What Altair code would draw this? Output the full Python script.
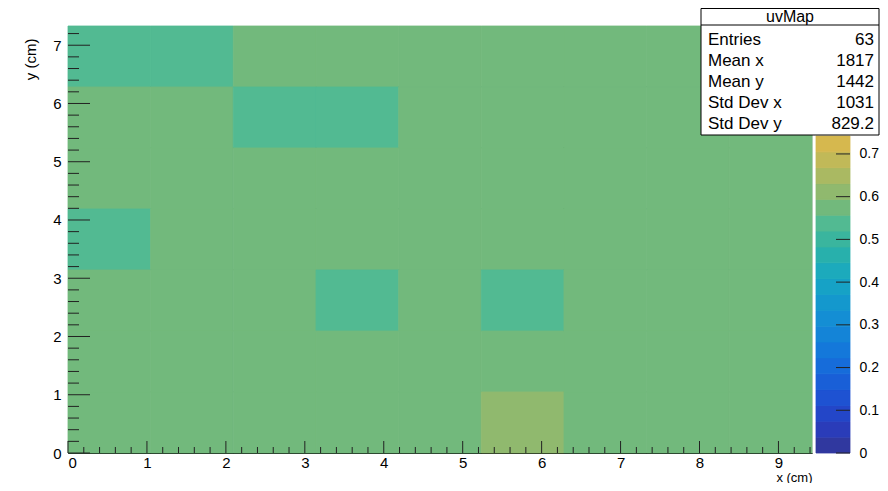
import altair as alt
import pandas as pd

# ---- data ----
x_edges = [0.0, 1.047, 2.094, 3.142, 4.189, 5.236, 6.283, 7.330, 8.378, 9.425]
y_edges = [0.0, 1.047, 2.094, 3.142, 4.189, 5.236, 6.283, 7.330]
# rows listed from top (y bin 6) to bottom (y bin 0)
cell_values = [
    [0.54, 0.54, 0.58, 0.58, 0.58, 0.58, 0.58, 0.58, 0.58],
    [0.58, 0.58, 0.54, 0.54, 0.58, 0.58, 0.58, 0.58, 0.58],
    [0.58, 0.58, 0.58, 0.58, 0.58, 0.58, 0.58, 0.58, 0.58],
    [0.54, 0.58, 0.58, 0.58, 0.58, 0.58, 0.58, 0.58, 0.58],
    [0.58, 0.58, 0.58, 0.54, 0.58, 0.54, 0.58, 0.58, 0.58],
    [0.58, 0.58, 0.58, 0.58, 0.58, 0.58, 0.58, 0.58, 0.58],
    [0.58, 0.58, 0.58, 0.58, 0.58, 0.61, 0.58, 0.58, 0.58],
]
z_levels = [0, 0.0371, 0.0742, 0.1113, 0.1484, 0.1855, 0.2226, 0.2597, 0.2968, 0.3339,
            0.371, 0.4081, 0.4452, 0.4823, 0.5194, 0.5565, 0.5936, 0.6307, 0.6678,
            0.7049, 0.742]
palette = ["#30389f", "#2a3cb9", "#2346c8", "#1e52d2", "#195fd7", "#166cda", "#1478da",
           "#1484d7", "#148ed4", "#1498cd", "#16a2c6", "#1caabc", "#28b0ac", "#3ab59e",
           "#52ba92", "#72b97c", "#90b96e", "#aab962", "#c1b958", "#d6b84e"]
x_major = [0, 1, 2, 3, 4, 5, 6, 7, 8, 9]
x_minor = [round(0.2 * k, 1) for k in range(48) if k % 5 != 0]
y_major = [0, 1, 2, 3, 4, 5, 6, 7]
y_minor = [round(0.2 * k, 1) for k in range(37) if k % 5 != 0]
z_ticks = [0, 0.1, 0.2, 0.3, 0.4, 0.5, 0.6, 0.7]
stat_names = ["Entries", "Mean x", "Mean y", "Std Dev x", "Std Dev y"]
stat_values = ["63", "1817", "1442", "1031", "829.2"]
hist_name = "uvMap"

# ---- tables ----
cells = []
nrows = len(cell_values)
for r, row in enumerate(cell_values):
    j = nrows - 1 - r
    for i, v in enumerate(row):
        cells.append({"x0": x_edges[i], "x1": x_edges[i + 1],
                      "y0": y_edges[j], "y1": y_edges[j + 1], "v": v})
cells = pd.DataFrame(cells)
bands = pd.DataFrame({"lo": z_levels[:-1], "hi": z_levels[1:]})
bands["mid"] = (bands["lo"] + bands["hi"]) / 2
stats = pd.DataFrame({"name": stat_names, "val": stat_values,
                      "row": list(range(len(stat_names)))})

W, H = 744, 427
FONT = "Liberation Sans"
xs = alt.Scale(domain=[x_edges[0], x_edges[-1]], nice=False, zero=False)
ys = alt.Scale(domain=[y_edges[0], y_edges[-1]], nice=False, zero=False)
zs = alt.Scale(domain=[z_levels[0], z_levels[-1]], nice=False, zero=False, range=[H, 110])
cs = alt.Scale(type="threshold", domain=z_levels[1:-1], range=palette)

x_axis = alt.Axis(values=x_major, ticks=False, tickSize=0, domain=True, domainColor="#000",
                  labelPadding=2, labelFontSize=15, labelFont=FONT, labelColor="#000",
                  grid=False, title="x (cm)", titleFont=FONT, titleFontSize=13,
                  titleFontWeight="normal", titleAnchor="end", titleAlign="right",
                  titleX=W, titleY=24, titleBaseline="middle")

heat = alt.Chart(cells).mark_rect(strokeWidth=0.8).encode(
    x=alt.X("x0:Q", scale=xs, axis=x_axis),
    x2="x1",
    y=alt.Y("y0:Q", scale=ys, axis=alt.Axis(
        values=y_major, ticks=False, tickSize=0, domain=True, domainColor="#000",
        labelPadding=7, labelFontSize=15, labelFont=FONT, labelColor="#000", grid=False,
        title="y (cm)", titleFont=FONT, titleFontSize=15, titleFontWeight="normal",
        titleAngle=270, titleAlign="right", titleBaseline="middle",
        titleX=-38, titleY=12)),
    y2="y1",
    color=alt.Color("v:Q", scale=cs, legend=None),
    stroke=alt.Stroke("v:Q", scale=cs, legend=None),
)

def xtick(vals, length):
    return alt.Chart(pd.DataFrame({"t": vals})).mark_rule(color="#222", strokeWidth=1).encode(
        x=alt.X("t:Q", scale=xs, axis=x_axis), y=alt.value(H), y2=alt.value(H - length))

def ytick(vals, length):
    return alt.Chart(pd.DataFrame({"t": vals})).mark_rule(color="#222", strokeWidth=1).encode(
        y=alt.Y("t:Q", scale=ys, axis=None), x=alt.value(0), x2=alt.value(length))

cbar = alt.Chart(bands).mark_rect(strokeWidth=0.8).encode(
    x=alt.value(748), x2=alt.value(782),
    y=alt.Y("lo:Q", scale=zs, axis=alt.Axis(
        orient="right", offset=38, values=z_ticks, ticks=False, tickSize=0, domain=False,
        grid=False, labelPadding=9, labelFontSize=14, labelFont=FONT, labelColor="#000",
        title=None, format=".1~f")),
    y2="hi",
    color=alt.Color("mid:Q", scale=cs, legend=None),
    stroke=alt.Stroke("mid:Q", scale=cs, legend=None),
)
cticks = alt.Chart(pd.DataFrame({"t": z_ticks})).mark_rule(color="#222").encode(
    y=alt.Y("t:Q", scale=zs, axis=None), x=alt.value(768), x2=alt.value(782))

box = alt.Chart(pd.DataFrame({"n": [hist_name]})).mark_rect(
    fill="white", stroke="black", strokeWidth=1).encode(
    x=alt.value(633), x2=alt.value(811), y=alt.value(-17.5), y2=alt.value(109))
sep = alt.Chart(pd.DataFrame({"n": [hist_name]})).mark_rule(color="black").encode(
    x=alt.value(633), x2=alt.value(811), y=alt.value(-1))
header = alt.Chart(pd.DataFrame({"n": [hist_name]})).mark_text(
    font=FONT, fontSize=16, color="black", align="center", baseline="middle").encode(
    x=alt.value(722), y=alt.value(-9), text="n:N")
names = alt.Chart(stats).transform_calculate(py="14 + 21*datum.row").mark_text(
    font=FONT, fontSize=17, color="black", align="left", baseline="middle").encode(
    x=alt.value(640), y=alt.Y("py:Q", scale=None, axis=None), text="name:N")
vals = alt.Chart(stats).transform_calculate(py="14 + 21*datum.row").mark_text(
    font=FONT, fontSize=17, color="black", align="right", baseline="middle").encode(
    x=alt.value(806), y=alt.Y("py:Q", scale=None, axis=None), text="val:N")

chart = alt.layer(
    heat, xtick(x_minor, 6), xtick(x_major, 12), ytick(y_minor, 11), ytick(y_major, 22),
    cbar, cticks, box, sep, header, names, vals
).resolve_scale(y="independent").properties(
    width=W, height=H,
    autosize=alt.AutoSizeParams(type="none"),
    padding={"left": 60, "top": 18, "right": 68, "bottom": 30},
).configure_view(stroke=None).configure(background="white")

chart.save("out.html", embed_options={"renderer": "svg", "actions": False})
